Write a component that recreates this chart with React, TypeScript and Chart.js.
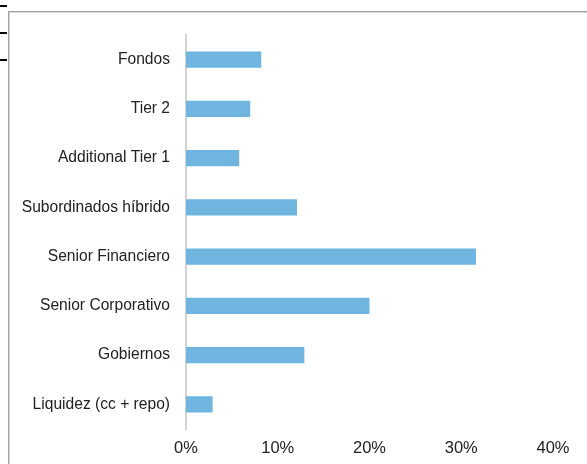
import React, { useEffect, useRef } from "react";
import { Chart, registerables } from "chart.js";

Chart.register(...registerables);

const categories = [
  "Fondos",
  "Tier 2",
  "Additional Tier 1",
  "Subordinados híbrido",
  "Senior Financiero",
  "Senior Corporativo",
  "Gobiernos",
  "Liquidez (cc + repo)",
];
const values = [8.2, 7.0, 5.8, 12.1, 31.6, 20.0, 12.9, 2.9];
const xTicks = [0, 10, 20, 30, 40];

export default function App() {
  const ref = useRef<HTMLCanvasElement | null>(null);

  useEffect(() => {
    if (!ref.current) return;
    const chart = new Chart(ref.current, {
      type: "bar",
      data: {
        labels: categories,
        datasets: [
          {
            data: values,
            backgroundColor: "#70B5DF",
            borderWidth: 0,
            barPercentage: 0.33,
            categoryPercentage: 1,
          },
        ],
      },
      options: {
        indexAxis: "y",
        animation: false,
        responsive: false,
        maintainAspectRatio: false,
        layout: { padding: { top: 35, right: 34, left: 0, bottom: 0 } },
        plugins: { legend: { display: false }, tooltip: { enabled: false } },
        scales: {
          x: {
            min: xTicks[0],
            max: xTicks[xTicks.length - 1],
            afterBuildTicks: (scale: any) => {
              scale.ticks = xTicks.map((v) => ({ value: v }));
            },
            afterFit: (scale: any) => {
              scale.height = 35;
            },
            grid: { display: false, drawTicks: false },
            border: { display: false },
            ticks: {
              padding: 10,
              color: "#222",
              font: { family: "Liberation Sans, Arial, sans-serif", size: 16.5 },
              callback: (v: any) => v + "%",
              maxRotation: 0,
            },
          },
          y: {
            afterFit: (scale: any) => {
              scale.width = 186;
            },
            grid: { display: false, drawTicks: false },
            border: { display: true, color: "#d4d4d4", width: 2 },
            ticks: {
              padding: 16,
              color: "#222",
              font: { family: "Liberation Sans, Arial, sans-serif", size: 15.6 },
            },
          },
        },
      },
    });
    return () => chart.destroy();
  }, []);

  return (
    <div style={{ position: "fixed", left: 0, top: 0, width: 587, height: 464, background: "#fff", overflow: "hidden" }}>
      <div style={{ position: "absolute", left: 0, top: 5, width: 7, height: 2, background: "#000" }} />
      <div style={{ position: "absolute", left: 0, top: 32, width: 7, height: 2, background: "#000" }} />
      <div style={{ position: "absolute", left: 0, top: 59, width: 7, height: 2, background: "#000" }} />
      <div style={{ position: "absolute", left: 8, top: 11, width: 579, height: 1, background: "#a0a0a0" }} />
      <div style={{ position: "absolute", left: 8, top: 12, width: 579, height: 1, background: "#d8d8d8" }} />
      <div style={{ position: "absolute", left: 8, top: 11, width: 1, height: 453, background: "#a0a0a0" }} />
      <div style={{ position: "absolute", left: 9, top: 12, width: 1, height: 452, background: "#d8d8d8" }} />
      <canvas ref={ref} width={587} height={464} style={{ position: "absolute", left: 0, top: 0 }} />
    </div>
  );
}
